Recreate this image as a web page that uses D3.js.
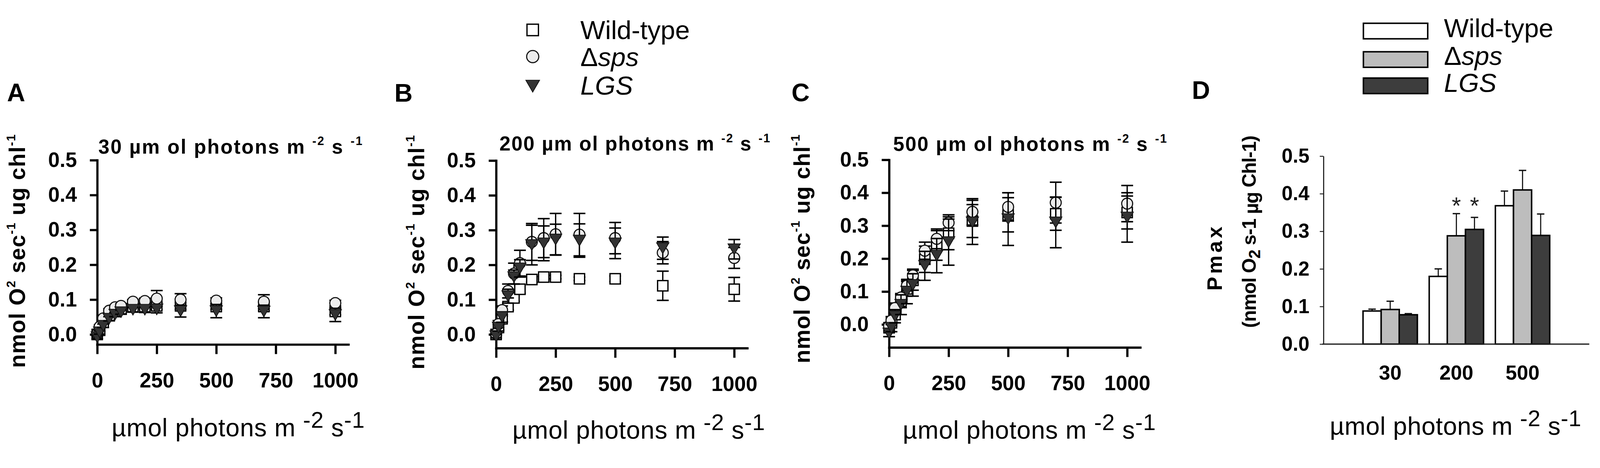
<!DOCTYPE html>
<html>
<head>
<meta charset="utf-8">
<script src="https://cdn.jsdelivr.net/npm/d3@7"></script>
<style>
    html, body { margin: 0; padding: 0; background: #fff; overflow: hidden; }
    svg { display: block; width: 100vw; height: 100vh; font-family: "Liberation Sans", Arial, sans-serif; }
    text { white-space: pre; }
</style>
</head>
<body>
<svg id="chart" viewBox="0 0 4328 1197" preserveAspectRatio="xMidYMid meet"></svg>
<script>
// light intensities of the P-I curves (umol photons m-2 s-1)
var light = [0, 10, 25, 50, 75, 100, 150, 200, 250, 350, 500, 700, 1000];
var xTicks = [0, 250, 500, 750, 1000];
var yTicks = [0.0, 0.1, 0.2, 0.3, 0.4, 0.5];

// A: grown at 30
var a_wt = [0.000, 0.012, 0.035, 0.055, 0.068, 0.074, 0.080, 0.080, 0.082, 0.082, 0.080, 0.080, 0.066];
var a_wt_sd = [0.004, 0.004, 0.005, 0.005, 0.005, 0.006, 0.006, 0.007, 0.010, 0.010, 0.008, 0.012, 0.010];
var a_sps = [0.002, 0.022, 0.046, 0.068, 0.078, 0.082, 0.094, 0.096, 0.103, 0.100, 0.097, 0.094, 0.090];
var a_sps_sd = [0.004, 0.005, 0.005, 0.006, 0.006, 0.006, 0.006, 0.008, 0.023, 0.017, 0.008, 0.020, 0.008];
var a_lgs = [-0.008, 0.006, 0.025, 0.045, 0.057, 0.064, 0.071, 0.071, 0.072, 0.067, 0.067, 0.066, 0.056];
var a_lgs_sd = [0.004, 0.005, 0.005, 0.006, 0.006, 0.006, 0.007, 0.008, 0.010, 0.017, 0.019, 0.018, 0.019];

// B: grown at 200
var b_wt = [0.000, 0.020, 0.045, 0.080, 0.105, 0.130, 0.158, 0.165, 0.165, 0.160, 0.160, 0.140, 0.130];
var b_wt_sd = [0.004, 0.006, 0.008, 0.010, 0.010, 0.012, 0.008, 0.005, 0.005, 0.005, 0.008, 0.042, 0.034];
var b_sps = [0.002, 0.030, 0.070, 0.125, 0.175, 0.205, 0.266, 0.277, 0.288, 0.287, 0.277, 0.235, 0.220];
var b_sps_sd = [0.005, 0.010, 0.012, 0.020, 0.030, 0.037, 0.053, 0.056, 0.060, 0.061, 0.045, 0.032, 0.030];
var b_lgs = [-0.005, 0.020, 0.050, 0.110, 0.165, 0.190, 0.257, 0.262, 0.273, 0.270, 0.262, 0.248, 0.245];
var b_lgs_sd = [0.005, 0.010, 0.015, 0.020, 0.020, 0.025, 0.057, 0.050, 0.044, 0.048, 0.044, 0.032, 0.028];

// C: grown at 500
var c_wt = [-0.010, 0.005, 0.030, 0.071, 0.108, 0.134, 0.198, 0.240, 0.277, 0.314, 0.333, 0.336, 0.340];
var c_wt_sd = [0.010, 0.010, 0.015, 0.020, 0.022, 0.030, 0.040, 0.045, 0.050, 0.050, 0.052, 0.050, 0.050];
var c_sps = [-0.005, 0.012, 0.050, 0.082, 0.118, 0.149, 0.224, 0.260, 0.309, 0.342, 0.357, 0.370, 0.367];
var c_sps_sd = [0.010, 0.012, 0.015, 0.012, 0.016, 0.019, 0.026, 0.030, 0.024, 0.040, 0.043, 0.062, 0.055];
var c_lgs = [-0.027, -0.010, 0.025, 0.060, 0.100, 0.120, 0.178, 0.209, 0.250, 0.310, 0.320, 0.310, 0.325];
var c_lgs_sd = [0.010, 0.012, 0.020, 0.030, 0.037, 0.034, 0.044, 0.052, 0.070, 0.067, 0.080, 0.077, 0.075];

// D: Pmax per growth light
var growthLight = ["30", "200", "500"];
var pmax_wt = [0.088, 0.180, 0.368];
var pmax_wt_sd = [0.005, 0.020, 0.039];
var pmax_sps = [0.092, 0.288, 0.410];
var pmax_sps_sd = [0.022, 0.059, 0.052];
var pmax_lgs = [0.078, 0.305, 0.289];
var pmax_lgs_sd = [0.003, 0.032, 0.057];
var signif_sps = [false, true, false];
var signif_lgs = [false, true, false];

var strains = ["wt", "sps", "lgs"];

var svg = d3.select("#chart");
var FONT = "Liberation Sans, Arial, sans-serif";

// text with super/subscripts, parts = [[string, kind], ...]
function richText(el, parts, size, supScale, supRise) {
    var shift = 0;
    parts.forEach(function (p) {
        var t = el.append("tspan").text(p[0]);
        var target = 0;
        if (p[1] == "sup") {
            t.attr("font-size", size * supScale);
            target = -size * supRise;
        } else if (p[1] == "sub") {
            t.attr("font-size", size * 0.85);
            target = size * 0.22;
        } else if (p[1] == "low") {
            target = size * 0.12;
        }
        if (target != shift) {
            t.attr("dy", target - shift);
            shift = target;
        }
    });
    return el;
}

function styleAxis(g, size, width, color) {
    g.attr("font-family", FONT).attr("font-size", size).attr("font-weight", "bold");
    g.selectAll("path, line").attr("stroke", color).attr("stroke-width", width);
    g.selectAll("text").attr("fill", "#000");
}

function panelLetter(letter, x, y) {
    svg.append("text").attr("x", x).attr("y", y)
        .attr("font-size", 68).attr("font-weight", "bold")
        .text(letter);
}

function marker(sel, kind, s) {
    if (kind == "wt") {
        sel.append("rect").attr("x", -s / 2).attr("y", -s / 2).attr("width", s).attr("height", s)
            .attr("fill", "#fff").attr("stroke", "#000").attr("stroke-width", 3.5);
    } else if (kind == "sps") {
        sel.append("circle").attr("r", s * 0.53)
            .attr("fill", "#ececec").attr("stroke", "#111").attr("stroke-width", 3);
    } else {
        var w = s * 0.6, h = s * 0.52;
        sel.append("path").attr("d", "M" + (-w) + "," + (-h) + "L" + w + "," + (-h) + "L0," + h + "Z")
            .attr("fill", "#333").attr("stroke", "#111").attr("stroke-width", 2);
    }
}

var scatterPanels = [
    {letter: "A", lx: 19, ly: 240, left: 263, top: 399, zero: 870, bottom: 897, grown: "30",
     tx: 266, ty: 381, tlen: 714, ylx: 68, yly: 645, yllen: 631, xlx: 302, xly: 1145, xllen: 684,
     wt: a_wt, wt_sd: a_wt_sd, sps: a_sps, sps_sd: a_sps_sd, lgs: a_lgs, lgs_sd: a_lgs_sd},
    {letter: "B", lx: 1067, ly: 241, left: 1342, top: 400, zero: 870, bottom: 907, grown: "200",
     tx: 1351, ty: 373, tlen: 732, ylx: 1148, yly: 648, yllen: 633, xlx: 1386, xly: 1152, xllen: 683,
     wt: b_wt, wt_sd: b_wt_sd, sps: b_sps, sps_sd: b_sps_sd, lgs: b_lgs, lgs_sd: b_lgs_sd},
    {letter: "C", lx: 2141, ly: 240, left: 2405, top: 398, zero: 843, bottom: 905, grown: "500",
     tx: 2416, ty: 374, tlen: 740, ylx: 2190, yly: 639, yllen: 618, xlx: 2442, xly: 1152, xllen: 684,
     wt: c_wt, wt_sd: c_wt_sd, sps: c_sps, sps_sd: c_sps_sd, lgs: c_lgs, lgs_sd: c_lgs_sd}
];

function drawScatter(p) {
    var g = svg.append("g");
    var ymin = -0.5 * (p.bottom - p.zero) / (p.zero - p.top);
    var x = d3.scaleLinear().domain([0, 1055]).range([p.left, p.left + 0.644 * 1055]);
    var y = d3.scaleLinear().domain([ymin, 0.5]).range([p.bottom, p.top]);

    var xa = g.append("g").attr("transform", "translate(0," + p.bottom + ")")
        .call(d3.axisBottom(x).tickValues(xTicks).tickSize(26).tickSizeOuter(0)
            .tickPadding(50).tickFormat(d3.format("d")));
    styleAxis(xa, 56, 6, "#000");
    var ya = g.append("g").attr("transform", "translate(" + p.left + ",0)")
        .call(d3.axisLeft(y).tickValues(yTicks).tickSize(20).tickSizeOuter(0)
            .tickPadding(35).tickFormat(d3.format(".1f")));
    styleAxis(ya, 56, 6, "#000");
    g.selectAll(".domain").attr("stroke-linecap", "square");

    strains.forEach(function (key) {
        var pts = light.map(function (d, i) {
            return {x: d, m: p[key][i], sd: p[key + "_sd"][i]};
        });
        var s = g.append("g").selectAll("g")
            .data(pts)
            .enter()
            .append("g")
            .attr("transform", function (d) {
                return "translate(" + x(d.x) + ",0)";
            });
        s.append("line")
            .attr("y1", function (d) { return y(d.m - d.sd); })
            .attr("y2", function (d) { return y(d.m + d.sd); })
            .attr("stroke", "#000").attr("stroke-width", 3.5);
        [-1, 1].forEach(function (sign) {
            s.append("line")
                .attr("x1", -16).attr("x2", 16)
                .attr("y1", function (d) { return y(d.m + sign * d.sd); })
                .attr("y2", function (d) { return y(d.m + sign * d.sd); })
                .attr("stroke", "#000").attr("stroke-width", 4);
        });
        s.each(function (d) {
            var m = d3.select(this).append("g").attr("transform", "translate(0," + y(d.m) + ")");
            marker(m, key, 28);
        });
    });

    panelLetter(p.letter, p.lx, p.ly);

    var t = svg.append("text").attr("x", p.tx).attr("y", p.ty)
        .attr("font-size", 54).attr("font-weight", "bold")
        .attr("textLength", p.tlen).attr("lengthAdjust", "spacing");
    richText(t, [[p.grown + " \u00b5m ol photons m ", null], ["-2", "sup"], [" s ", null], ["-1", "sup"]], 54, 0.6, 0.42);

    var yl = svg.append("text")
        .attr("transform", "translate(" + p.ylx + "," + p.yly + ") rotate(-90)")
        .attr("text-anchor", "middle").attr("font-size", 60).attr("font-weight", "bold")
        .attr("textLength", p.yllen).attr("lengthAdjust", "spacing");
    richText(yl, [["nmol O", null], ["2", "sup"], [" sec", null], ["-1", "sup"],
        [" ug chl", null], ["-1", "sup"]], 60, 0.55, 0.45);

    var xl = svg.append("text").attr("x", p.xlx).attr("y", p.xly)
        .attr("font-size", 68).attr("textLength", p.xllen).attr("lengthAdjust", "spacing");
    richText(xl, [["\u00b5mol photons m ", null], ["-2", "sup"], [" s", null], ["-1", "sup"]], 68, 0.9, 0.34);
}

scatterPanels.forEach(drawScatter);

// legend for the P-I curves
var legendY = [47, 119, 199];
var legendTextY = [72, 145, 222];
var lg = svg.append("g");
strains.forEach(function (key, i) {
    var m = lg.append("g").attr("transform", "translate(1441," + legendY[i] + ")");
    marker(m, key, 31);
});

function legendLabel(g, i, x, y) {
    var t = g.append("text").attr("x", x).attr("y", y).attr("font-size", 71);
    if (i == 0) {
        t.text("Wild-type");
    } else if (i == 1) {
        t.append("tspan").text("\u0394");
        t.append("tspan").attr("font-style", "italic").text("sps");
    } else {
        t.append("tspan").attr("font-style", "italic").text("LGS");
    }
}
strains.forEach(function (key, i) {
    legendLabel(lg, i, 1570, legendTextY[i]);
});

// D: bar chart of Pmax
function drawBars() {
    var g = svg.append("g");
    var x0 = d3.scaleBand().domain(growthLight).range([3687, 4192]).paddingInner(32 / 179);
    var x1 = d3.scaleBand().domain(strains).range([0, x0.bandwidth()]);
    var y = d3.scaleLinear().domain([0, 0.5]).range([896, 388]);
    var fills = {wt: "#fff", sps: "#bdbdbd", lgs: "#3d3d3d"};
    var means = {wt: pmax_wt, sps: pmax_sps, lgs: pmax_lgs};
    var sds = {wt: pmax_wt_sd, sps: pmax_sps_sd, lgs: pmax_lgs_sd};
    var stars = {wt: [false, false, false], sps: signif_sps, lgs: signif_lgs};

    var ya = g.append("g").attr("transform", "translate(3580,0)")
        .call(d3.axisLeft(y).tickValues(yTicks).tickSize(10).tickSizeOuter(0)
            .tickPadding(28).tickFormat(d3.format(".1f")));
    styleAxis(ya, 54, 3, "#222");
    ya.selectAll(".tick line").attr("stroke-width", 2.5);

    strains.forEach(function (key) {
        var rows = growthLight.map(function (d, i) {
            return {grown: d, m: means[key][i], sd: sds[key][i], star: stars[key][i], i: i};
        });
        var b = g.append("g").selectAll("g")
            .data(rows)
            .enter()
            .append("g")
            .attr("transform", function (d) {
                return "translate(" + (x0(d.grown) + x1(key)) + ",0)";
            });
        var bw = x1.bandwidth();
        b.append("line")
            .attr("x1", bw / 2).attr("x2", bw / 2)
            .attr("y1", function (d) { return y(d.m); })
            .attr("y2", function (d) { return y(d.m + d.sd); })
            .attr("stroke", "#111").attr("stroke-width", 3);
        b.append("line")
            .attr("x1", bw / 2 - 10).attr("x2", bw / 2 + 10)
            .attr("y1", function (d) { return y(d.m + d.sd); })
            .attr("y2", function (d) { return y(d.m + d.sd); })
            .attr("stroke", "#111").attr("stroke-width", 3.5);
        b.append("rect")
            .attr("x", 0).attr("width", bw)
            .attr("y", function (d) { return y(d.m); })
            .attr("height", function (d) { return y(0) - y(d.m); })
            .attr("fill", fills[key]).attr("stroke", "#000").attr("stroke-width", 4);
        b.filter(function (d) { return d.star; })
            .append("text")
            .attr("x", bw / 2)
            .attr("y", function (d) {
                var top = d3.max(strains, function (k) { return means[k][d.i] + sds[k][d.i]; });
                return y(top + 0.035) + 36;
            })
            .attr("text-anchor", "middle").attr("font-size", 64).attr("fill", "#222")
            .text("*");
    });

    var xa = g.append("g").attr("transform", "translate(0,896)")
        .call(d3.axisBottom(x0).tickSize(0).tickPadding(57));
    styleAxis(xa, 55, 3, "#222");
    xa.select(".domain").remove();
    g.append("line").attr("x1", 3577).attr("x2", 4299).attr("y1", y(0)).attr("y2", y(0))
        .attr("stroke", "#222").attr("stroke-width", 3.5);

    panelLetter("D", 3224, 233);

    svg.append("text")
        .attr("transform", "translate(3305,665) rotate(-90)")
        .attr("text-anchor", "middle").attr("font-size", 56).attr("font-weight", "bold")
        .attr("textLength", 173).attr("lengthAdjust", "spacing")
        .text("Pmax");
    var l2 = svg.append("text")
        .attr("transform", "translate(3397,592) rotate(-90)")
        .attr("text-anchor", "middle").attr("font-size", 52).attr("font-weight", "bold")
        .attr("textLength", 520).attr("lengthAdjust", "spacing");
    richText(l2, [["(nmol O", null], ["2", "sub"], [" s-1 ", null], ["\u00b5g", "low"], [" Chl-1)", null]], 52, 0.6, 0.4);

    var xl = svg.append("text").attr("x", 3597).attr("y", 1141)
        .attr("font-size", 68).attr("textLength", 680).attr("lengthAdjust", "spacing");
    richText(xl, [["\u00b5mol photons m ", null], ["-2", "sup"], [" s", null], ["-1", "sup"]], 68, 0.9, 0.34);

    // legend boxes
    var boxY = [29, 106, 177];
    var boxTextY = [67, 141, 214];
    var dl = svg.append("g");
    strains.forEach(function (key, i) {
        dl.append("rect").attr("x", 3688).attr("y", boxY[i]).attr("width", 174).attr("height", 42)
            .attr("fill", fills[key]).attr("stroke", "#000").attr("stroke-width", 4);
        legendLabel(dl, i, 3906, boxTextY[i]);
    });
}

drawBars();
</script>
</body>
</html>
